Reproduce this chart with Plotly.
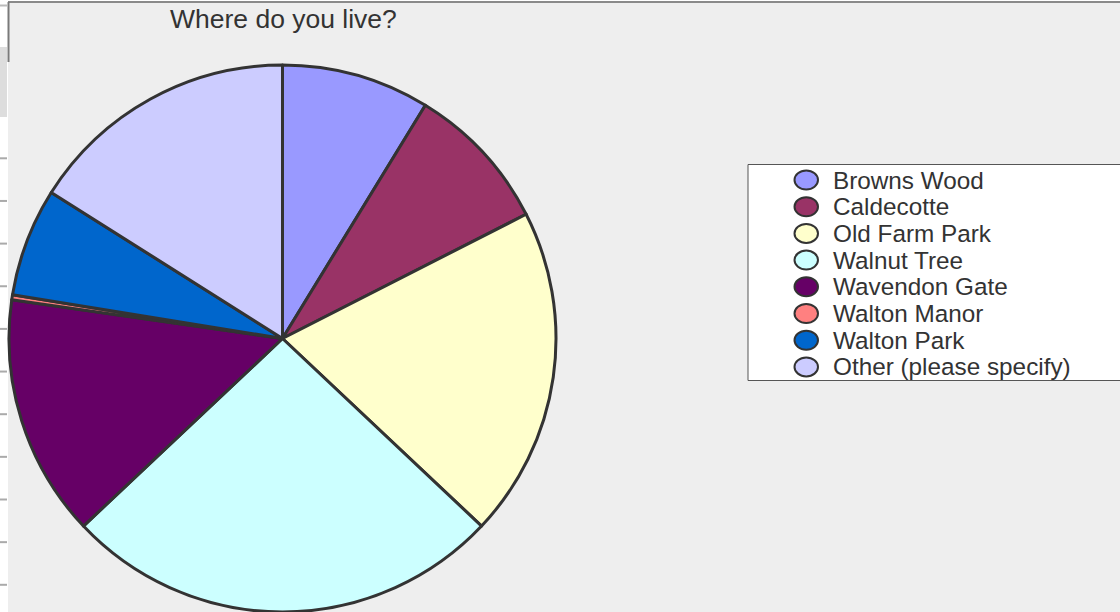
import plotly.graph_objects as go

labels = ["Browns Wood", "Caldecotte", "Old Farm Park", "Walnut Tree",
          "Wavendon Gate", "Walton Manor", "Walton Park", "Other (please specify)"]
values = [30, 30, 67, 89, 49, 1, 22, 55]
colors = ["#9999FF", "#993366", "#FFFFCC", "#CCFFFF",
          "#660066", "#FF8080", "#0066CC", "#CCCCFF"]
title_text = "Where do you live?"

W, H = 1120, 612
def px(x):
    return x / W
def py(y):
    return 1 - y / H

fig = go.Figure()
fig.add_trace(go.Pie(
    labels=labels, values=values, sort=False, direction="clockwise", rotation=0,
    marker=dict(colors=colors, line=dict(color="#333333", width=3)),
    textinfo="none", hoverinfo="label+value+percent", showlegend=False,
    domain=dict(x=[px(8), px(557)], y=[0, 547 / H]),
))

shapes = []
# background panel
shapes.append(dict(type="rect", xref="paper", yref="paper", x0=px(8), x1=1.01, y0=-0.01, y1=py(2),
                   fillcolor="#EEEEEE", line=dict(width=0), layer="below"))
shapes.append(dict(type="line", xref="paper", yref="paper", x0=px(8), x1=1, y0=py(2), y1=py(2),
                   line=dict(color="#8A8A8A", width=2), layer="below"))
shapes.append(dict(type="line", xref="paper", yref="paper", x0=px(8.5), x1=px(8.5), y0=py(2), y1=py(62),
                   line=dict(color="#7A7A7A", width=2), layer="below"))
shapes.append(dict(type="rect", xref="paper", yref="paper", x0=0, x1=px(7), y0=py(117), y1=py(47),
                   fillcolor="#DDDDDD", line=dict(width=0), layer="below"))
shapes.append(dict(type="line", xref="paper", yref="paper", x0=0, x1=px(7), y0=py(5.5), y1=py(5.5),
                   line=dict(color="#BBBBBB", width=2), layer="below"))
# left edge ticks
for i in range(11):
    yy = 158.3 + i * 42.65
    shapes.append(dict(type="line", xref="paper", yref="paper", x0=0, x1=px(7), y0=py(yy), y1=py(yy),
                       line=dict(color="#AAAAAA", width=2), layer="below"))
# legend box
shapes.append(dict(type="rect", xref="paper", yref="paper", x0=px(748), x1=1.02, y0=py(380.5), y1=py(164.5),
                   fillcolor="#FFFFFF", line=dict(color="#555555", width=1), layer="above"))

annotations = [dict(text=title_text, x=px(283.5), y=py(19), xref="paper", yref="paper",
                    showarrow=False, xanchor="center", yanchor="middle",
                    font=dict(family="Arial, Liberation Sans", size=26.5, color="#333333"))]

row0, step = 180.0, 26.7
for i, (lab, col) in enumerate(zip(labels, colors)):
    cy = row0 + i * step
    shapes.append(dict(type="circle", xref="paper", yref="paper",
                       x0=px(794.5), x1=px(818), y0=py(cy + 9.5), y1=py(cy - 9.5),
                       fillcolor=col, line=dict(color="#333333", width=2), layer="above"))
    annotations.append(dict(text=lab, x=px(831), y=py(cy), xref="paper", yref="paper",
                            showarrow=False, xanchor="left", yanchor="middle",
                            font=dict(family="Arial, Liberation Sans", size=24.3, color="#333333")))

fig.update_layout(
    width=W, height=H, margin=dict(l=0, r=0, t=0, b=0),
    paper_bgcolor="#FFFFFF", plot_bgcolor="#FFFFFF",
    shapes=shapes, annotations=annotations, showlegend=False,
)
fig.write_html("out.html", config={"displayModeBar": False},
               post_script="document.body.style.margin='0';document.body.style.padding='0';"
                           "document.body.style.overflow='hidden';")
